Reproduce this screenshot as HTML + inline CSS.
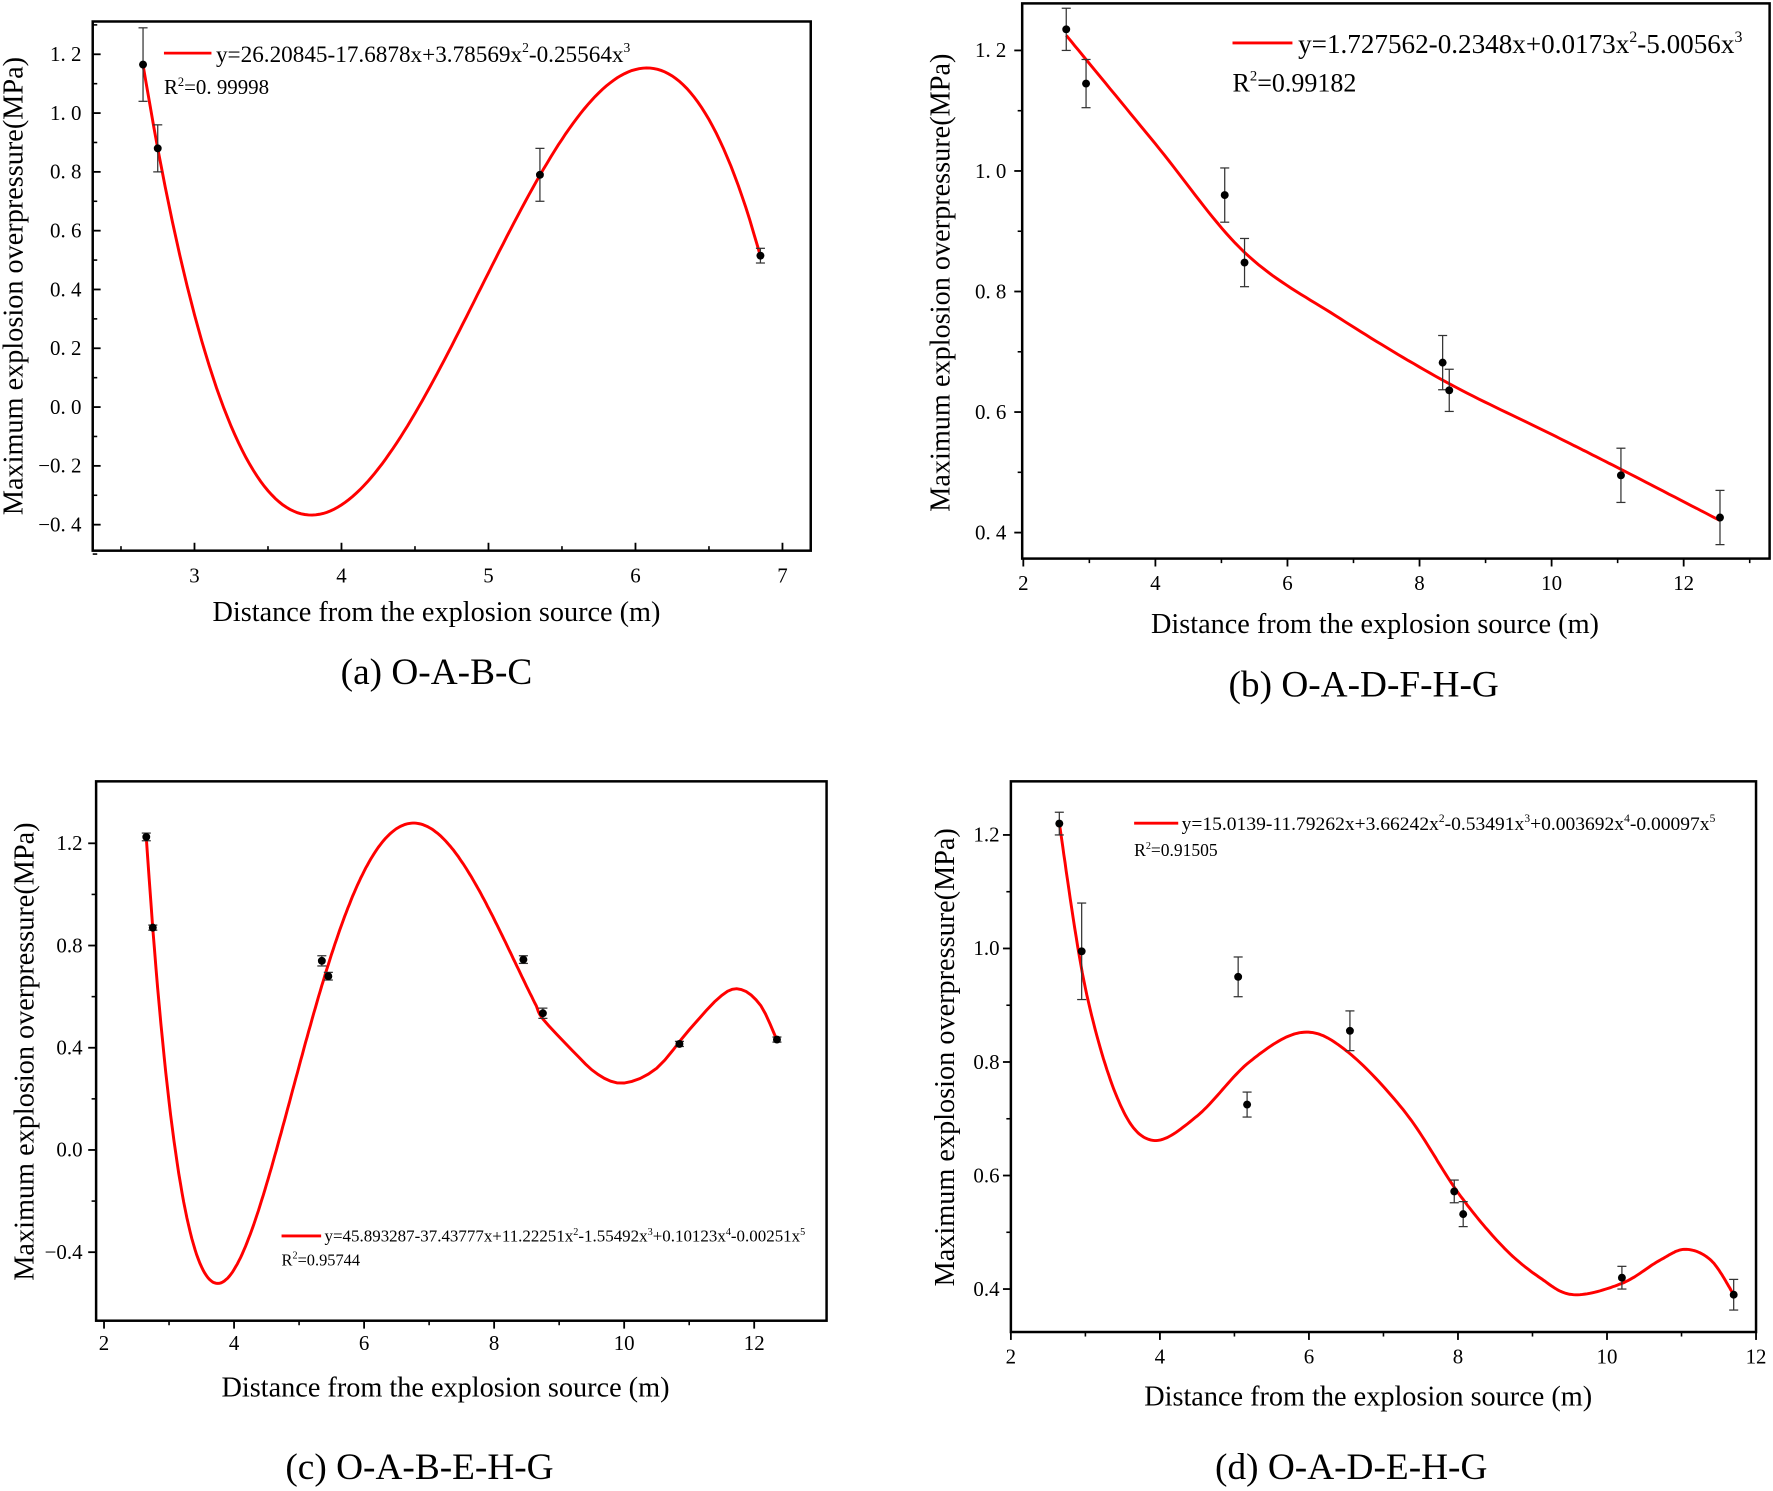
<!DOCTYPE html>
<html><head><meta charset="utf-8"><style>
html,body{margin:0;padding:0;background:#fff;}
svg{display:block;}
text{font-family:"Liberation Serif",serif;fill:#000;}
</style></head><body>
<svg id="s" width="1773" height="1491" viewBox="0 0 1568 1318.6" xmlns="http://www.w3.org/2000/svg">
<rect width="1568" height="1319" fill="#fff"/>
<g id="g"></g>
<text x="14" y="253" font-size="25" text-anchor="middle" transform="rotate(-90 14 253)" dominant-baseline="middle">Maximum explosion overpressure(MPa)</text>
<text x="386" y="549" font-size="25" text-anchor="middle">Distance from the explosion source (m)</text>
<text x="386" y="605" font-size="33" text-anchor="middle">(a) O-A-B-C</text>
<text x="834" y="250" font-size="25" text-anchor="middle" transform="rotate(-90 834 250)" dominant-baseline="middle">Maximum explosion overpressure(MPa)</text>
<text x="1216" y="560" font-size="25" text-anchor="middle">Distance from the explosion source (m)</text>
<text x="1206" y="616" font-size="33" text-anchor="middle">(b) O-A-D-F-H-G</text>
<text x="24" y="930" font-size="25" text-anchor="middle" transform="rotate(-90 24 930)" dominant-baseline="middle">Maximum explosion overpressure(MPa)</text>
<text x="394" y="1235" font-size="25" text-anchor="middle">Distance from the explosion source (m)</text>
<text x="371" y="1308" font-size="33" text-anchor="middle">(c) O-A-B-E-H-G</text>
<text x="838" y="935" font-size="25" text-anchor="middle" transform="rotate(-90 838 935)" dominant-baseline="middle">Maximum explosion overpressure(MPa)</text>
<text x="1210" y="1243" font-size="25" text-anchor="middle">Distance from the explosion source (m)</text>
<text x="1195" y="1308" font-size="33" text-anchor="middle">(d)  O-A-D-E-H-G</text>
<line x1="145" y1="47" x2="187" y2="47" stroke="#f00" stroke-width="2.5"/>
<text x="191" y="55" font-size="20.5">y=26.20845-17.6878x+3.78569x<tspan font-size="12" dy="-9">2</tspan><tspan dy="9">-0.25564x</tspan><tspan font-size="12" dy="-9">3</tspan></text>
<text x="145" y="83" font-size="18.5">R<tspan font-size="11" dy="-7">2</tspan><tspan dy="7">=0. 99998</tspan></text>
<line x1="1090" y1="38" x2="1143" y2="38" stroke="#f00" stroke-width="2.5"/>
<text x="1148" y="47" font-size="24">y=1.727562-0.2348x+0.0173x<tspan font-size="14" dy="-10">2</tspan><tspan dy="10">-5.0056x</tspan><tspan font-size="14" dy="-10">3</tspan></text>
<text x="1090" y="81" font-size="23">R<tspan font-size="13" dy="-10">2</tspan><tspan dy="10">=0.99182</tspan></text>
<line x1="249" y1="1093" x2="284" y2="1093" stroke="#f00" stroke-width="2.5"/>
<text x="287" y="1098" font-size="15">y=45.893287-37.43777x+11.22251x<tspan font-size="9" dy="-6">2</tspan><tspan dy="6">-1.55492x</tspan><tspan font-size="9" dy="-6">3</tspan><tspan dy="6">+0.10123x</tspan><tspan font-size="9" dy="-6">4</tspan><tspan dy="6">-0.00251x</tspan><tspan font-size="9" dy="-6">5</tspan></text>
<text x="249" y="1119" font-size="14.5">R<tspan font-size="9" dy="-6">2</tspan><tspan dy="6">=0.95744</tspan></text>
<line x1="1003" y1="728" x2="1042" y2="728" stroke="#f00" stroke-width="2.5"/>
<text x="1045" y="734" font-size="17" textLength="472" lengthAdjust="spacingAndGlyphs">y=15.0139-11.79262x+3.66242x<tspan font-size="10" dy="-7">2</tspan><tspan dy="7">-0.53491x</tspan><tspan font-size="10" dy="-7">3</tspan><tspan dy="7">+0.003692x</tspan><tspan font-size="10" dy="-7">4</tspan><tspan dy="7">-0.00097x</tspan><tspan font-size="10" dy="-7">5</tspan></text>
<text x="1003" y="757" font-size="15.5">R<tspan font-size="9" dy="-6">2</tspan><tspan dy="6">=0.91505</tspan></text>
</svg>
<script>
var NS="http://www.w3.org/2000/svg",G=document.getElementById("g");
function el(t,a){var e=document.createElementNS(NS,t);for(var k in a)e.setAttribute(k,a[k]);G.appendChild(e);return e;}
function txt(x,y,s,anchor,size){var e=el("text",{x:x,y:y,"font-size":size||17,"text-anchor":anchor});e.textContent=s;}
function cr(pts,n){var out=[];for(var i=0;i<pts.length-1;i++){var p0=pts[Math.max(0,i-1)],p1=pts[i],p2=pts[i+1],p3=pts[Math.min(pts.length-1,i+2)];for(var j=0;j<n;j++){var t=j/n,t2=t*t,t3=t2*t;var f=function(a,b,c,d){return 0.5*((2*b)+(-a+c)*t+(2*a-5*b+4*c-d)*t2+(-a+3*b-3*c+d)*t3);};out.push([f(p0[0],p1[0],p2[0],p3[0]),f(p0[1],p1[1],p2[1],p3[1])]);}}out.push(pts[pts.length-1]);return out;}
function panel(P){
 var X=function(v){return P.x0+(v-P.xa)*P.xs;},Y=function(v){return P.y0-(v-P.ya)*P.ys;};
 el("rect",{x:P.L,y:P.T,width:P.R-P.L,height:P.B-P.T,fill:"none",stroke:"#000","stroke-width":2.2});
 var d=P.ti?1:-1;
 P.xt.forEach(function(v){var px=X(v);el("line",{x1:px,y1:P.B,x2:px,y2:P.B-d*7,stroke:"#000","stroke-width":1.6});txt(px,P.B+P.xly,String(v),"middle",P.fs);});
 P.xm.forEach(function(v){var px=X(v);el("line",{x1:px,y1:P.B,x2:px,y2:P.B-d*4,stroke:"#000","stroke-width":1.4});});
 P.yt.forEach(function(v){var py=Y(v);el("line",{x1:P.L,y1:py,x2:P.L+d*7,y2:py,stroke:"#000","stroke-width":1.6});txt(P.L-P.ylx,py+6,P.fmt(v),"end",P.fs);});
 P.ym.forEach(function(v){var py=Y(v);el("line",{x1:P.L,y1:py,x2:P.L+d*4,y2:py,stroke:"#000","stroke-width":1.4});});
 var k=[];
 if(P.f){for(var x=P.c0;x<=P.c1+1e-9;x+=0.1)k.push([x,P.f(x)]);}
 k=k.concat(P.k||[]);
 var pts=cr(k.map(function(p){return[X(p[0]),Y(p[1])];}),P.f?4:20);
 el("path",{d:"M"+pts.map(function(p){return p[0].toFixed(1)+","+p[1].toFixed(1);}).join("L"),fill:"none",stroke:"#f00","stroke-width":2.6});
 P.pts.forEach(function(p){var px=X(p[0]),a=Y(p[1]+p[2]),b=Y(p[1]-p[2]);
  el("line",{x1:px,y1:a,x2:px,y2:b,stroke:"#333","stroke-width":1.1});
  el("line",{x1:px-4,y1:a,x2:px+4,y2:a,stroke:"#333","stroke-width":1.1});
  el("line",{x1:px-4,y1:b,x2:px+4,y2:b,stroke:"#333","stroke-width":1.1});
  el("circle",{cx:px,cy:Y(p[1]),r:3.5,fill:"#000"});});
}
function f1(v){return v.toFixed(1).replace("-","\u2212");}
function f1s(v){var s=v.toFixed(1);return s.replace(".",". ").replace("-","\u2212");}
function rng(a,b,s){var r=[];for(var v=a;v<=b+1e-9;v+=s)r.push(Math.round(v*1000)/1000);return r;}
panel({L:82,T:19,R:717,B:487,x0:172,xa:3,xs:130,y0:360,ya:0,ys:260,ti:true,fs:18.5,xly:28,ylx:10,fmt:f1s,
 xt:[3,4,5,6,7],xm:[2.5,3.5,4.5,5.5,6.5],yt:rng(-0.4,1.2,0.2),ym:rng(-0.5,1.3,0.2),
 f:function(x){return 26.20845-17.6878*x+3.78569*x*x-0.25564*x*x*x;},c0:2.65,c1:6.85,
 pts:[[2.65,1.165,0.125],[2.75,0.88,0.08],[5.35,0.79,0.09],[6.85,0.515,0.025]]});
panel({L:904,T:3,R:1565,B:494,x0:905,xa:2,xs:58.4,y0:471,ya:0.4,ys:533,ti:false,fs:18.5,xly:28,ylx:14,fmt:f1s,
 xt:[2,4,6,8,10,12],xm:[3,5,7,9,11,13],yt:[0.4,0.6,0.8,1.0,1.2],ym:[0.5,0.7,0.9,1.1],
 k:[[2.65,1.225],[4,1.045],[5.35,0.865],[6.8,0.755],[8.4,0.65],[10,0.563],[11.05,0.505],[12.55,0.42]],
 pts:[[2.65,1.235,0.035],[2.95,1.145,0.04],[5.05,0.96,0.045],[5.35,0.848,0.04],[8.35,0.682,0.045],[8.45,0.636,0.035],[11.05,0.495,0.045],[12.55,0.425,0.045]]});
panel({L:85,T:691,R:731,B:1168,x0:92,xa:2,xs:57.5,y0:1017,ya:0,ys:226,ti:false,fs:18.5,xly:26,ylx:12,fmt:f1,
 xt:[2,4,6,8,10,12],xm:[3,5,7,9,11],yt:[-0.4,0,0.4,0.8,1.2],ym:[-0.2,0.2,0.6,1.0],
 f:function(x){return 45.893287-37.43777*x+11.22251*x*x-1.55492*Math.pow(x,3)+0.10123*Math.pow(x,4)-0.00251*Math.pow(x,5);},c0:2.65,c1:8.75,
 k:[[9.2,0.39],[9.6,0.295],[10,0.262],[10.5,0.32],[11,0.47],[11.5,0.605],[11.8,0.628],[12.1,0.565],[12.35,0.43]],
 pts:[[2.65,1.225,0.015],[2.75,0.87,0.01],[5.35,0.74,0.02],[5.45,0.68,0.015],[8.45,0.745,0.015],[8.75,0.535,0.02],[10.85,0.415,0.01],[12.35,0.432,0.01]]});
panel({L:894,T:691,R:1553,B:1178,x0:894,xa:2,xs:65.9,y0:1140,ya:0.4,ys:502,ti:false,fs:18.5,xly:28,ylx:10,fmt:f1,
 xt:[2,4,6,8,10,12],xm:[3,5,7,9,11],yt:[0.4,0.6,0.8,1.0,1.2],ym:[0.5,0.7,0.9,1.1],
 k:[[2.65,1.22],[3.0,0.93],[3.45,0.73],[3.9,0.662],[4.5,0.705],[5.2,0.8],[5.9,0.852],[6.5,0.82],[7.3,0.71],[8.0,0.57],[8.6,0.475],[9.1,0.42],[9.55,0.39],[10.2,0.41],[10.7,0.45],[11.05,0.47],[11.4,0.45],[11.7,0.39]],
 pts:[[2.65,1.22,0.02],[2.95,0.995,0.085],[5.05,0.95,0.035],[5.17,0.725,0.022],[6.55,0.855,0.035],[7.95,0.572,0.02],[8.07,0.532,0.022],[10.2,0.42,0.02],[11.7,0.39,0.027]]});
</script>
</body></html>
